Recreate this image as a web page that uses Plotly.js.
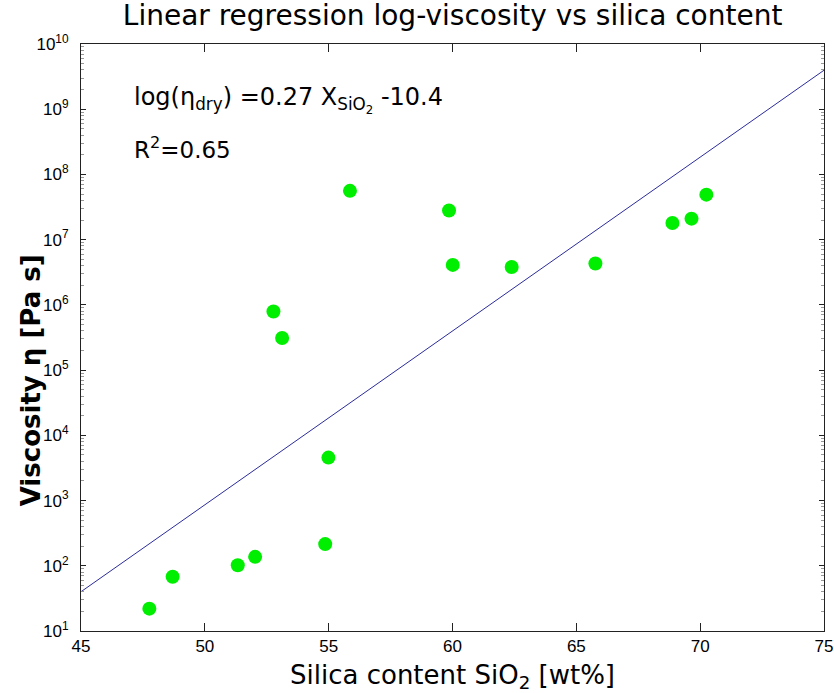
<!DOCTYPE html>
<html>
<head>
<meta charset="utf-8">
<script src="https://cdn.plot.ly/plotly-3.0.1.min.js"></script>
<style>
  html, body { margin: 0; padding: 0; background: #ffffff; }
  #chart { width: 834px; height: 693px; }
</style>
</head>
<body>
<div id="chart"></div>
<script>
// Measured samples: silica content (wt%) and dry viscosity (Pa s)
const silica = [47.76, 48.70, 51.33, 52.03, 52.77, 53.12, 54.86, 54.99, 55.86, 59.86, 60.01, 62.39, 65.77, 68.88, 69.65, 70.25];
const viscosity = [22, 68, 102, 137, 7.9e5, 3.1e5, 215, 4560, 5.6e7, 2.8e7, 4.1e6, 3.8e6, 4.3e6, 1.8e7, 2.1e7, 4.9e7];

// Regression line end points
const fitX = [45, 75];
const fitY = [40, 3.96e9];

// Axis ticks
const xTicks = [45, 50, 55, 60, 65, 70, 75];
const yExponents = [1, 2, 3, 4, 5, 6, 7, 8, 9, 10];
const minorMultipliers = [2, 3, 4, 5, 6, 7, 8, 9];

const yTickVals = yExponents.map(e => Math.pow(10, e));
const yTickText = yExponents.map(e => '10<sup>' + e + '</sup>');
const yMinorVals = [];
yExponents.slice(0, -1).forEach(e => minorMultipliers.forEach(m => yMinorVals.push(m * Math.pow(10, e))));

const traces = [
  {
    x: fitX, y: fitY, type: 'scatter', mode: 'lines',
    line: { color: '#2b2b9c', width: 1 },
    hoverinfo: 'skip', showlegend: false
  },
  {
    x: silica, y: viscosity, type: 'scatter', mode: 'markers',
    marker: { color: '#00ee00', size: 14, line: { width: 0 } },
    showlegend: false
  }
];

const tickFont = { family: 'Liberation Sans, Arial, sans-serif', size: 17, color: '#000' };

const layout = {
  width: 834, height: 693,
  margin: { l: 80.7, r: 9.5, t: 43.8, b: 61.7 },
  paper_bgcolor: '#ffffff', plot_bgcolor: '#ffffff',
  showlegend: false,
  title: {
    text: 'Linear regression log-viscosity vs silica content',
    font: { family: 'DejaVu Sans, sans-serif', size: 28, color: '#000' },
    x: 0.5427, xref: 'container', xanchor: 'center',
    y: 0.978, yref: 'container', yanchor: 'middle'
  },
  xaxis: {
    range: [45, 75], tickmode: 'array', tickvals: xTicks, ticktext: xTicks.map(String),
    ticks: 'inside', ticklen: 8, tickcolor: '#222', tickwidth: 1,
    showline: true, linecolor: '#222', linewidth: 1, mirror: 'ticks',
    showgrid: false, zeroline: false, tickfont: tickFont,
    title: { text: 'Silica content SiO<sub>2</sub> [wt%]', font: { family: 'DejaVu Sans, sans-serif', size: 26, color: '#000' }, standoff: 10 },
    automargin: false
  },
  yaxis: {
    type: 'log', range: [1, 10], tickmode: 'array', tickvals: yTickVals, ticktext: yTickText,
    ticks: 'inside', ticklen: 5, tickcolor: '#222', tickwidth: 1,
    minor: { tickmode: 'array', tickvals: yMinorVals, ticks: 'inside', ticklen: 3, tickcolor: '#999', showgrid: false },
    showline: true, linecolor: '#222', linewidth: 1, mirror: 'ticks',
    showgrid: false, zeroline: false, tickfont: tickFont, ticklabelstandoff: 8,
    automargin: false
  },
  annotations: [
    {
      text: '<b>Viscosity η [Pa s]</b>',
      xref: 'paper', yref: 'paper', x: -0.0668, y: 0.4277, xanchor: 'center', yanchor: 'middle',
      textangle: -90, showarrow: false,
      font: { family: 'DejaVu Sans, sans-serif', size: 26, color: '#000' }
    },
    {
      text: 'log(η<sub>dry</sub>) =0.27 X<sub>SiO<sub>2</sub></sub> -10.4',
      xref: 'paper', yref: 'paper', x: 0.0686, y: 0.904, xanchor: 'left', yanchor: 'middle',
      showarrow: false, font: { family: 'DejaVu Sans, sans-serif', size: 24, color: '#000' }
    },
    {
      text: 'R<sup>2</sup>=0.65',
      xref: 'paper', yref: 'paper', x: 0.0686, y: 0.8235, xanchor: 'left', yanchor: 'middle',
      showarrow: false, font: { family: 'DejaVu Sans, sans-serif', size: 23, color: '#000' }
    }
  ]
};

Plotly.newPlot('chart', traces, layout, { displayModeBar: false });
</script>
</body>
</html>
